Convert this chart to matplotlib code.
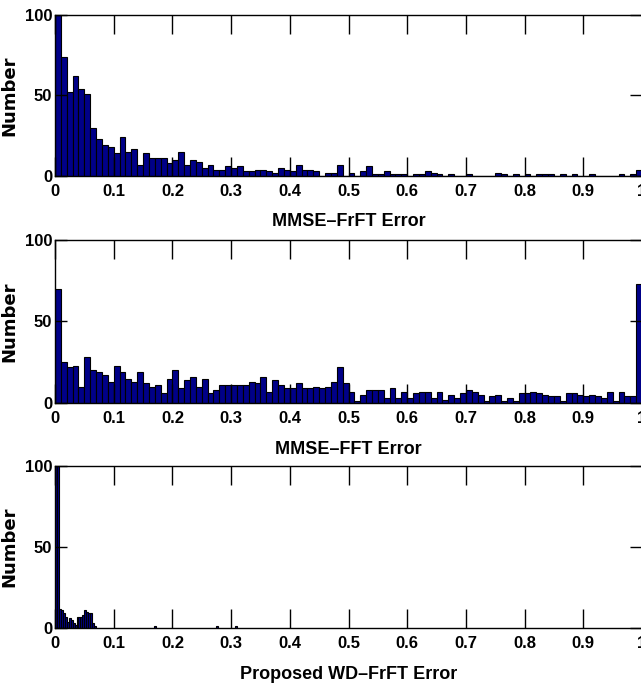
import numpy as np
import matplotlib.pyplot as plt

# histogram counts (100 bins on [0, 1])
frft_counts = [100, 74, 52, 62, 54, 51, 30, 23, 19, 18,
               14, 24, 15, 17, 7, 14, 11, 11, 11, 8,
               10, 15, 7, 10, 9, 5, 7, 4, 4, 6,
               5, 6, 3, 3, 4, 4, 3, 2, 5, 4,
               3, 7, 4, 4, 3, 0, 2, 2, 7, 0,
               2, 0, 3, 6, 1, 1, 3, 1, 1, 1,
               0, 1, 1, 3, 2, 1, 0, 1, 0, 0,
               1, 0, 0, 0, 0, 2, 1, 0, 1, 0,
               1, 0, 1, 1, 1, 0, 1, 0, 1, 0,
               0, 1, 0, 0, 0, 0, 1, 0, 1, 4]

fft_counts = [70, 25, 22, 23, 10, 28, 20, 19, 17, 13,
              23, 19, 15, 13, 19, 12, 10, 11, 6, 15,
              20, 9, 14, 16, 10, 15, 6, 8, 11, 11,
              11, 11, 11, 13, 12, 16, 7, 14, 11, 9,
              9, 12, 9, 9, 10, 9, 10, 13, 22, 12,
              7, 1, 5, 8, 8, 8, 3, 9, 3, 7,
              3, 6, 7, 7, 3, 7, 2, 5, 3, 6,
              8, 7, 5, 1, 4, 5, 1, 3, 1, 6,
              6, 7, 6, 5, 4, 4, 1, 6, 6, 5,
              4, 5, 4, 3, 7, 1, 7, 4, 4, 73]

# proposed method: finer bins (width 1/300), only the first ones are non-empty
wd_head = [140, 105, 12, 11, 9, 7, 4, 6, 5, 3, 2,
           7, 7, 7, 8, 11, 10, 9, 9, 3, 1]
wd_extra_x = [0.169, 0.274, 0.307]
wd_extra_n = [1, 1, 1]

xlabels = ['MMSE\u2013FrFT Error', 'MMSE\u2013FFT Error', 'Proposed WD\u2013FrFT Error']
xticks = [0, 0.1, 0.2, 0.3, 0.4, 0.5, 0.6, 0.7, 0.8, 0.9, 1]
xticklabels = ['0', '0.1', '0.2', '0.3', '0.4', '0.5', '0.6', '0.7', '0.8', '0.9', '1']
yticks = [0, 50, 100]

face = '#000088'
font = dict(family=['Liberation Sans', 'DejaVu Sans'], fontweight='bold')

fig = plt.figure(figsize=(6.41, 6.94), dpi=100)
boxes = [[0.0858, 0.7464, 0.9158, 0.2320],
         [0.0858, 0.4193, 0.9158, 0.2349],
         [0.0858, 0.0951, 0.9158, 0.2334]]
axes = [fig.add_axes(b) for b in boxes]

edges = np.linspace(0, 1, 101)
axes[0].bar(edges[:-1], frft_counts, width=0.01, align='edge',
            color=face, edgecolor='black', linewidth=0.8)
axes[1].bar(edges[:-1], fft_counts, width=0.01, align='edge',
            color=face, edgecolor='black', linewidth=0.8)

w3 = 1 / 300
x3 = np.arange(len(wd_head)) * w3
axes[2].bar(x3, wd_head, width=w3, align='edge',
            color=face, edgecolor='black', linewidth=0.8)
axes[2].bar(wd_extra_x, wd_extra_n, width=w3, align='edge',
            color=face, edgecolor='black', linewidth=0.8)

for ax, lab in zip(axes, xlabels):
    ax.set_xlim(0, 1)
    ax.set_ylim(0, 100)
    ax.set_xticks(xticks)
    ax.set_xticklabels(xticklabels, fontsize=12, **font)
    ax.set_yticks(yticks)
    ax.set_yticklabels([str(v) for v in yticks], fontsize=12, **font)
    ax.tick_params(axis='x', direction='in', length=13.5, width=1, top=True, pad=6)
    ax.tick_params(axis='y', direction='in', length=8.5, width=1, right=True, pad=2)
    ax.set_xlabel(lab, fontsize=13, **font)
    ax.xaxis.set_label_coords(0.5, -0.232)
    ax.set_ylabel('Number', fontweight='bold', fontsize=13)
    ax.yaxis.set_label_coords(-0.062, 0.5)
    for s in ax.spines.values():
        s.set_linewidth(1)

fig.savefig('out.png', dpi=100)
